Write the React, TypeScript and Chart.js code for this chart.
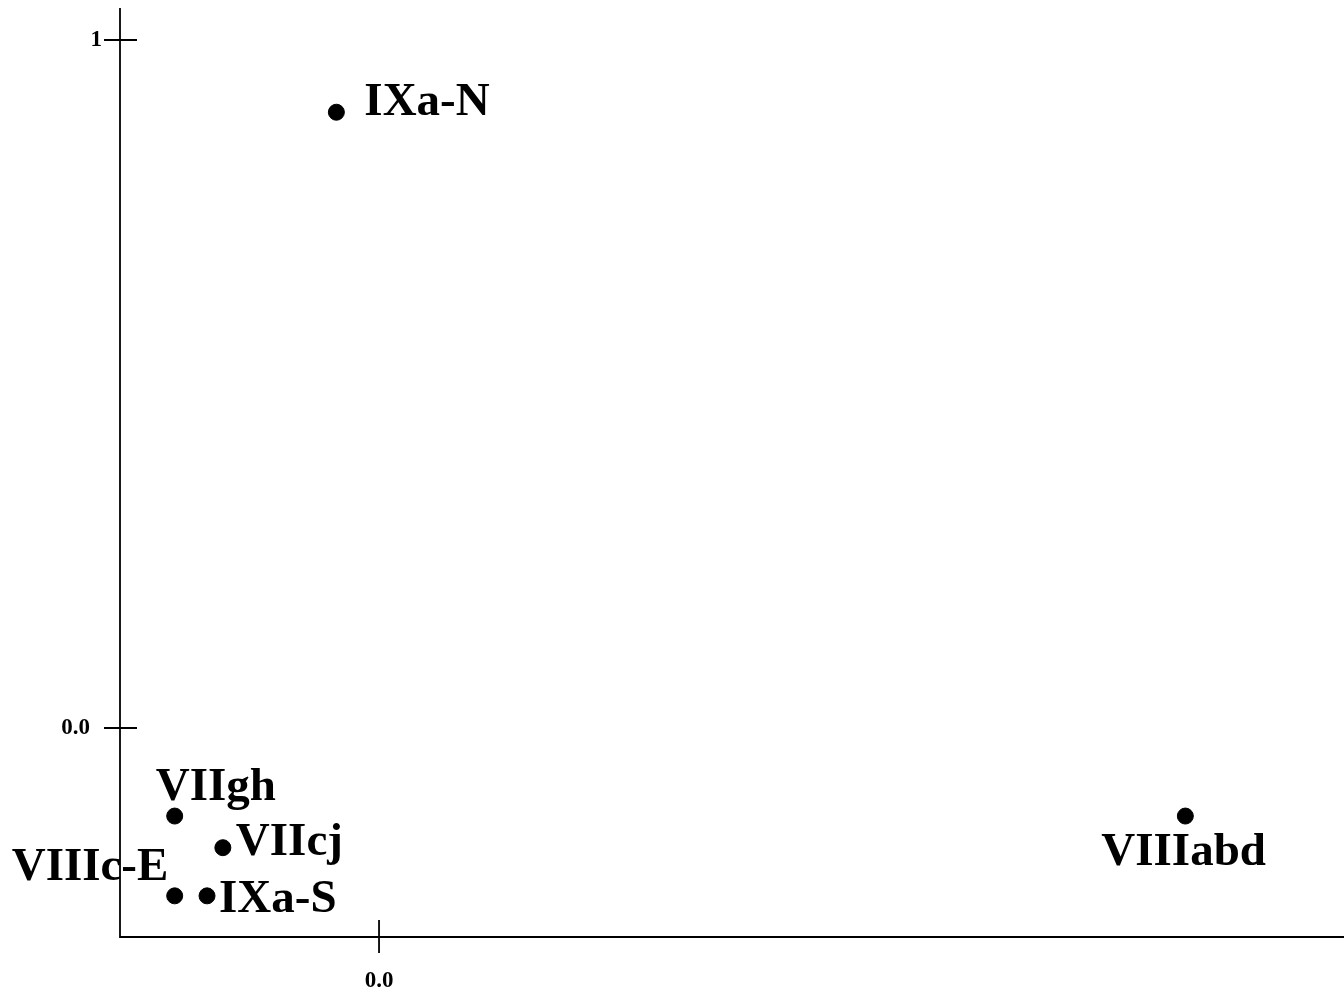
import React, { useEffect, useRef } from "react";
import { Chart, registerables } from "chart.js";

Chart.register(...registerables);

const labels = ["IXa-N", "VIIgh", "VIIcj", "VIIIc-E", "IXa-S", "VIIIabd"];
const xValues = [-0.062, -0.297, -0.227, -0.297, -0.25, 1.172];
const yValues = [0.895, -0.128, -0.174, -0.244, -0.244, -0.128];
const yTicks = [0, 1];
const yTickLabels = ["0.0", "1"];
const xTicks = [0];
const xTickLabels = ["0.0"];
// label placement (px) relative to point: [dx to text left, dy to baseline]
const labelOffsets: [number, number][] = [
  [28, 3],
  [-19, -16],
  [13, 7],
  [-163, -16],
  [12, 16],
  [-84, 49],
];

const FONT = '"Liberation Serif", "Times New Roman", serif';

const axesPlugin = {
  id: "customAxes",
  afterDatasetsDraw(chart: any) {
    const { ctx, chartArea, scales } = chart;
    const xs = scales.x;
    const ys = scales.y;
    ctx.save();
    ctx.strokeStyle = "#000";
    ctx.lineWidth = 1.8;
    ctx.beginPath();
    ctx.moveTo(chartArea.left, chartArea.top);
    ctx.lineTo(chartArea.left, chartArea.bottom);
    ctx.lineTo(chartArea.right, chartArea.bottom);
    ctx.stroke();
    // y ticks
    ctx.font = "bold 23px " + FONT;
    ctx.fillStyle = "#000";
    yTicks.forEach((v, i) => {
      const py = ys.getPixelForValue(v);
      ctx.beginPath();
      ctx.moveTo(chartArea.left - 16, py);
      ctx.lineTo(chartArea.left + 17, py);
      ctx.stroke();
      ctx.textAlign = "right";
      ctx.textBaseline = "middle";
      const gap = yTickLabels[i].length > 1 ? 30 : 18;
      ctx.fillText(yTickLabels[i], chartArea.left - gap, py);
    });
    xTicks.forEach((v, i) => {
      const px = xs.getPixelForValue(v);
      ctx.beginPath();
      ctx.moveTo(px, chartArea.bottom - 17);
      ctx.lineTo(px, chartArea.bottom + 16);
      ctx.stroke();
      ctx.textAlign = "center";
      ctx.textBaseline = "alphabetic";
      ctx.fillText(xTickLabels[i], px, chartArea.bottom + 50);
    });
    // point labels
    ctx.font = "bold 47px " + FONT;
    ctx.textAlign = "left";
    ctx.textBaseline = "alphabetic";
    labels.forEach((lab, i) => {
      const px = xs.getPixelForValue(xValues[i]);
      const py = ys.getPixelForValue(yValues[i]);
      ctx.fillText(lab, px + labelOffsets[i][0], py + labelOffsets[i][1]);
    });
    ctx.restore();
  },
};

export default function App() {
  const ref = useRef<HTMLCanvasElement | null>(null);
  useEffect(() => {
    if (!ref.current) return;
    const chart = new Chart(ref.current, {
      type: "scatter",
      data: {
        datasets: [
          {
            data: xValues.map((x, i) => ({ x, y: yValues[i] })),
            backgroundColor: "#000",
            borderColor: "#000",
            pointRadius: 8,
            pointHoverRadius: 8,
          },
        ],
      },
      options: {
        animation: false,
        responsive: false,
        maintainAspectRatio: false,
        layout: { autoPadding: false, padding: { left: 120, right: 0, top: 8, bottom: 55 } },
        plugins: { legend: { display: false }, tooltip: { enabled: false } },
        scales: {
          x: { type: "linear", display: false, min: -0.3765, max: 1.4026 },
          y: { type: "linear", display: false, min: -0.3038, max: 1.0465 },
        },
      },
      plugins: [axesPlugin],
    });
    return () => chart.destroy();
  }, []);
  return (
    <div style={{ position: "fixed", left: 0, top: 0, width: 1344, height: 992, background: "#fff" }}>
      <canvas ref={ref} width={1344} height={992} style={{ display: "block" }} />
    </div>
  );
}
